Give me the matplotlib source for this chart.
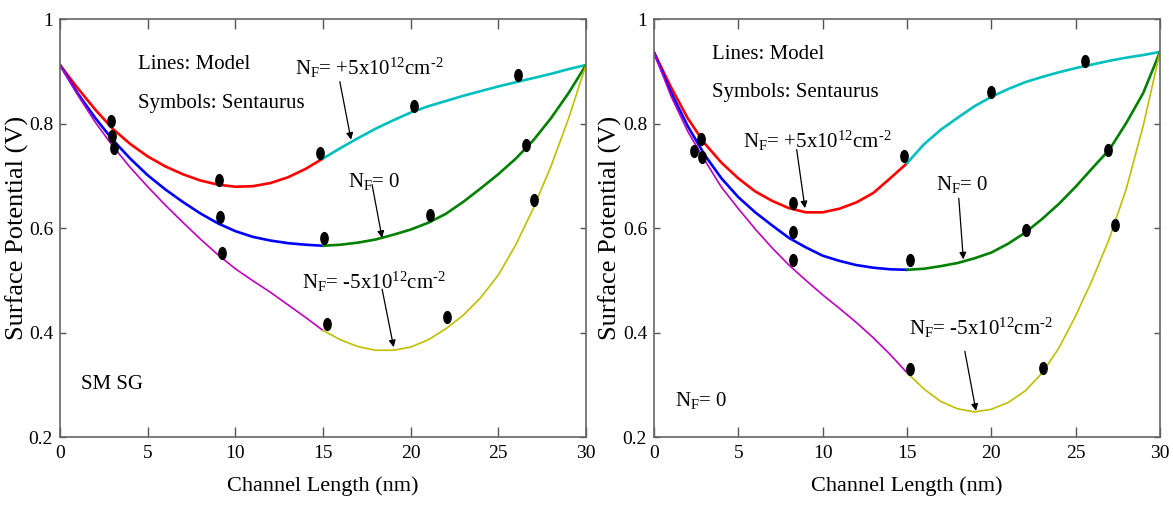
import numpy as np
import matplotlib
matplotlib.use("Agg")
import matplotlib.pyplot as plt
from matplotlib.markers import MarkerStyle
from matplotlib.transforms import Affine2D

plt.rcParams["font.family"] = ["Liberation Serif", "DejaVu Serif"]
plt.rcParams["mathtext.fontset"] = "custom"
plt.rcParams["mathtext.rm"] = "Liberation Serif"
plt.rcParams["mathtext.it"] = "Liberation Serif:italic"

# channel positions (nm) of the read curve points: first half / second half
x_first = [0, 1, 2, 3, 4, 5, 6, 7, 8, 9, 10, 11, 12, 13, 14, 15]
x_second = [15, 16, 17, 18, 19, 20, 21, 22, 23, 24, 25, 26, 27, 28, 29, 30]

# left panel (SM SG) - model lines
left_pos_a = [.912, .868, .827, .790, .761, .737, .718, .703, .691, .683, .679, .680, .686, .697, .713, .733]
left_pos_b = [.733, .753, .772, .790, .806, .821, .833, .843, .853, .862, .871, .879, .887, .895, .904, .912]
left_zero_a = [.912, .858, .811, .769, .733, .701, .674, .650, .628, .609, .594, .583, .576, .571, .568, .566]
left_zero_b = [.566, .568, .572, .578, .587, .597, .610, .627, .650, .676, .703, .733, .768, .810, .858, .912]
left_neg_a = [.912, .855, .803, .757, .716, .679, .644, .611, .579, .549, .522, .499, .477, .453, .429, .404]
left_neg_b = [.404, .386, .373, .366, .366, .372, .386, .407, .433, .467, .510, .568, .638, .718, .809, .912]
# left panel - Sentaurus symbols
left_sym_x = [2.9, 2.99, 3.09, 9.05, 9.14, 9.24, 14.82, 15.08, 15.2, 20.2, 21.1, 22.1, 26.1, 26.55, 27.05]
left_sym_y = [.805, .777, .753, .692, .622, .553, .743, .580, .416, .833, .624, .429, .892, .759, .654]

# right panel - model lines
right_pos_a = [.936, .870, .810, .762, .725, .695, .670, .652, .638, .630, .630, .637, .649, .667, .695, .724]
right_pos_b = [.724, .760, .788, .811, .833, .851, .866, .879, .889, .898, .906, .913, .920, .926, .931, .937]
right_zero_a = [.936, .860, .795, .740, .695, .659, .630, .605, .581, .563, .547, .537, .529, .524, .521, .520]
right_zero_b = [.520, .522, .527, .533, .542, .553, .570, .591, .617, .646, .679, .715, .750, .801, .858, .937]
right_neg_a = [.936, .853, .785, .730, .678, .637, .598, .562, .529, .500, .472, .446, .419, .390, .358, .323]
right_neg_b = [.323, .292, .268, .254, .248, .253, .266, .288, .322, .370, .432, .502, .580, .675, .795, .937]
# right panel - Sentaurus symbols
right_sym_x = [2.39, 2.77, 2.86, 8.26, 8.22, 8.22, 14.82, 15.17, 15.17, 19.96, 22.03, 23.04, 25.57, 26.93, 27.33]
right_sym_y = [.748, .771, .736, .648, .593, .538, .737, .538, .330, .861, .597, .332, .919, .749, .606]

x_ticks = [0, 5, 10, 15, 20, 25, 30]
y_ticks = [0.2, 0.4, 0.6, 0.8, 1.0]
y_tick_labels = ["0.2", "0.4", "0.6", "0.8", "1"]

HY = "\u2010"  # short hyphen, the mathtext '-' would become a long minus
NF_POS = r"N$_\mathregular{F}$= +5x10$^\mathregular{12}$cm$^\mathregular{" + HY + "2}$"
NF_ZERO = r"N$_\mathregular{F}$= 0"
NF_NEG = r"N$_\mathregular{F}$= -5x10$^\mathregular{12}$cm$^\mathregular{" + HY + "2}$"

fig = plt.figure(figsize=(11.73, 5.16), dpi=100)
ax_l = fig.add_axes([60 / 1173, 79 / 516, 526 / 1173, 418 / 516])
ax_r = fig.add_axes([654 / 1173, 79 / 516, 506 / 1173, 418 / 516])

dot = MarkerStyle("o", transform=Affine2D().scale(0.62, 1.0))


def draw_panel(ax, curves, sym_x, sym_y, ylab_x):
    thick = 1.9
    thin = 1.2
    ax.plot(x_first, curves[0], color="#ff0000", lw=thick)
    ax.plot(x_second, curves[1], color="#00bfbf", lw=thick)
    ax.plot(x_first, curves[2], color="#0000ff", lw=thick)
    ax.plot(x_second, curves[3], color="#008000", lw=thick)
    ax.plot(x_first, curves[4], color="#bf00bf", lw=thin)
    ax.plot(x_second, curves[5], color="#bfbf00", lw=thin)
    ax.plot(sym_x, sym_y, ls="none", marker=dot, ms=8.5, color="black")

    ax.set_xlim(0, 30)
    ax.set_ylim(0.2, 1.0)
    ax.set_xticks(x_ticks)
    ax.set_yticks(y_ticks)
    ax.set_yticklabels(y_tick_labels)
    ax.tick_params(axis="both", direction="in", top=True, right=True,
                   colors="#555555", labelcolor="black", labelsize=14, width=1)
    ax.tick_params(axis="x", length=7, pad=6)
    ax.tick_params(axis="y", length=4.5, pad=5)
    for sp in ax.spines.values():
        sp.set_color("#666666")
        sp.set_linewidth(1.2)

    ax.set_xlabel("Channel Length (nm)", fontsize=16)
    ax.xaxis.set_label_coords(0.5, -0.095)
    ax.set_ylabel("Surface Potential (V)", fontsize=19)
    ax.yaxis.set_label_coords(ylab_x, 0.5)


def arrow(ax, start, tip):
    ax.annotate("", xy=tip, xytext=start,
                arrowprops=dict(arrowstyle="-|>", color="black", lw=0.9,
                                mutation_scale=10, shrinkA=0, shrinkB=0))


draw_panel(ax_l, [left_pos_a, left_pos_b, left_zero_a, left_zero_b, left_neg_a, left_neg_b],
           left_sym_x, left_sym_y, -0.058)
draw_panel(ax_r, [right_pos_a, right_pos_b, right_zero_a, right_zero_b, right_neg_a, right_neg_b],
           right_sym_x, right_sym_y, -0.063)

# left panel notes
ax_l.text(4.45, 0.913, "Lines: Model", fontsize=15, va="center")
ax_l.text(4.45, 0.838, "Symbols: Sentaurus", fontsize=15, va="center")
ax_l.text(13.4, 0.893, NF_POS, fontsize=15, va="baseline")
arrow(ax_l, (15.96, 0.880), (16.6, 0.769))
ax_l.text(16.4, 0.679, NF_ZERO, fontsize=15, va="baseline")
arrow(ax_l, (17.8, 0.683), (18.37, 0.581))
ax_l.text(13.8, 0.483, NF_NEG, fontsize=15, va="baseline")
arrow(ax_l, (18.37, 0.483), (19.03, 0.372))
ax_l.text(1.2, 0.30, "SM SG", fontsize=15, va="center")

# right panel notes
ax_r.text(3.42, 0.933, "Lines: Model", fontsize=15, va="center")
ax_r.text(3.42, 0.859, "Symbols: Sentaurus", fontsize=15, va="center")
ax_r.text(5.26, 0.754, NF_POS, fontsize=15, va="baseline")
arrow(ax_r, (8.46, 0.750), (8.95, 0.638))
ax_r.text(16.74, 0.673, NF_ZERO, fontsize=15, va="baseline")
arrow(ax_r, (18.07, 0.657), (18.34, 0.540))
ax_r.text(15.13, 0.396, NF_NEG, fontsize=15, va="baseline")
arrow(ax_r, (18.43, 0.364), (19.09, 0.250))
ax_r.text(1.24, 0.259, NF_ZERO, fontsize=15, va="baseline")

fig.savefig("out.png", dpi=100, facecolor="white")
